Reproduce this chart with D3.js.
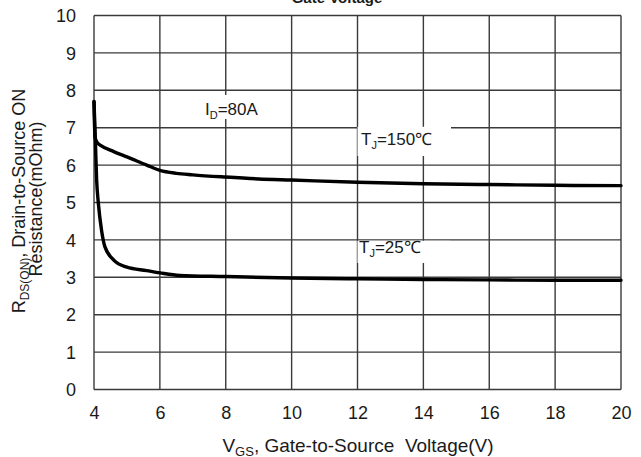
<!DOCTYPE html>
<html>
<head>
<meta charset="utf-8">
<script src="https://cdn.jsdelivr.net/npm/d3@7"></script>
<style>
  html, body { margin: 0; padding: 0; background: #fff; }
  svg { display: block; font-family: "Liberation Sans", Arial, sans-serif; }
</style>
</head>
<body>
<svg id="chart" width="641" height="457"></svg>
<script>
// Gate voltage (V) and on-resistance (mOhm) for each junction temperature
const vgs150 = [4.0, 4.03, 4.1, 4.2, 4.6, 5.0, 5.6, 6.0, 6.5, 7, 8, 9, 10, 12, 14, 16, 18, 20];
const r150   = [7.7, 6.75, 6.6, 6.53, 6.36, 6.22, 6.0, 5.86, 5.78, 5.74, 5.68, 5.63, 5.6, 5.54, 5.5, 5.48, 5.46, 5.45];
const vgs25  = [4.0, 4.04, 4.08, 4.13, 4.23, 4.33, 4.6, 5.0, 5.6, 6.0, 6.6, 8, 10, 12, 14, 16, 18, 20];
const r25    = [7.7, 6.7, 5.6, 5.0, 4.25, 3.82, 3.46, 3.27, 3.18, 3.12, 3.05, 3.02, 2.98, 2.96, 2.94, 2.93, 2.92, 2.92];

const xTicks = [4, 6, 8, 10, 12, 14, 16, 18, 20];
const yTicks = [0, 1, 2, 3, 4, 5, 6, 7, 8, 9, 10];

const svg = d3.select("#chart");
const x = d3.scaleLinear().domain([4, 20]).range([94, 621]);
const y = d3.scaleLinear().domain([0, 10]).range([389.5, 15.5]);

const gridColor = "#3a3a3a";
const textColor = "#1a1a1a";

// Title (second line of the figure caption, runs off the top edge)
svg.append("text")
  .attr("x", 337).attr("y", 3)
  .attr("text-anchor", "middle")
  .attr("font-size", 15).attr("font-weight", "bold")
  .attr("fill", textColor)
  .text("Gate Voltage");

// Grid
const grid = svg.append("g");
grid.selectAll("line.h").data(yTicks).join("line")
  .attr("x1", x(4)).attr("x2", x(20))
  .attr("y1", d => y(d)).attr("y2", d => y(d))
  .attr("stroke", gridColor).attr("stroke-width", 1.4);
grid.selectAll("line.v").data(xTicks).join("line")
  .attr("y1", y(0)).attr("y2", y(10))
  .attr("x1", d => x(d)).attr("x2", d => x(d))
  .attr("stroke", gridColor).attr("stroke-width", 1.4);

// Axes (labels only, the grid forms the frame)
const xAxis = d3.axisBottom(x).tickValues(xTicks).tickSize(0).tickPadding(0).tickFormat(d3.format("d"));
const gx = svg.append("g").attr("transform", `translate(0,${y(0)})`).call(xAxis);
gx.select(".domain").remove();
gx.selectAll("text").attr("font-size", 18).attr("fill", textColor)
  .attr("font-family", "Liberation Sans, Arial, sans-serif")
  .attr("dy", null).attr("y", 29.5);

const yAxis = d3.axisLeft(y).tickValues(yTicks).tickSize(0).tickPadding(0).tickFormat(d3.format("d"));
const gy = svg.append("g").attr("transform", `translate(76,0)`).call(yAxis);
gy.select(".domain").remove();
gy.selectAll("text").attr("font-size", 18).attr("fill", textColor)
  .attr("font-family", "Liberation Sans, Arial, sans-serif")
  .attr("x", 0).attr("dy", null).attr("y", 6.2);

// White label backgrounds that interrupt the grid
const masks = [
  { x0: 200, x1: 262, y0: 95, y1: 119 },
  { x0: 357.5, x1: 451, y0: 126.8, y1: 156 },
  { x0: 357.5, x1: 450, y0: 240.8, y1: 263 }
];
svg.append("g").selectAll("rect").data(masks).join("rect")
  .attr("x", d => d.x0).attr("y", d => d.y0)
  .attr("width", d => d.x1 - d.x0).attr("height", d => d.y1 - d.y0)
  .attr("fill", "#fff");

// Curves
const line = d3.line().x(d => x(d[0])).y(d => y(d[1])).curve(d3.curveMonotoneX);
const series = [d3.zip(vgs150, r150), d3.zip(vgs25, r25)];
svg.append("g").selectAll("path").data(series).join("path")
  .attr("d", line)
  .attr("fill", "none").attr("stroke", "#000")
  .attr("stroke-width", 3.4).attr("stroke-linejoin", "round").attr("stroke-linecap", "round");

// In-plot annotations
function annot(px, py, main, sub, rest) {
  const t = svg.append("text").attr("x", px).attr("y", py)
    .attr("font-size", 17).attr("fill", textColor);
  t.append("tspan").text(main);
  t.append("tspan").attr("font-size", 11).attr("dy", 4).text(sub);
  t.append("tspan").attr("dy", -4).text(rest);
  return t;
}
annot(205, 115, "I", "D", "=80A");
annot(361, 145, "T", "J", "=150\u2103");
annot(359, 253, "T", "J", "=25\u2103");

// X axis title
const xt = svg.append("text").attr("x", 358).attr("y", 451.5)
  .attr("text-anchor", "middle").attr("font-size", 19).attr("fill", textColor);
xt.append("tspan").text("V");
xt.append("tspan").attr("font-size", 13).attr("dy", 4).text("GS");
xt.append("tspan").attr("dy", -4).text(", Gate-to-Source\u00a0 Voltage(V)");

// Y axis title (two rotated lines)
const yt1 = svg.append("text")
  .attr("transform", "translate(25,201) rotate(-90)")
  .attr("text-anchor", "middle").attr("font-size", 18).attr("fill", textColor);
yt1.append("tspan").text("R");
yt1.append("tspan").attr("font-size", 12).attr("dy", 4).text("DS(ON)");
yt1.append("tspan").attr("dy", -4).text(", Drain-to-Source ON");

svg.append("text")
  .attr("transform", "translate(42,199) rotate(-90)")
  .attr("text-anchor", "middle").attr("font-size", 18).attr("fill", textColor)
  .text("Resistance(mOhm)");
</script>
</body>
</html>
